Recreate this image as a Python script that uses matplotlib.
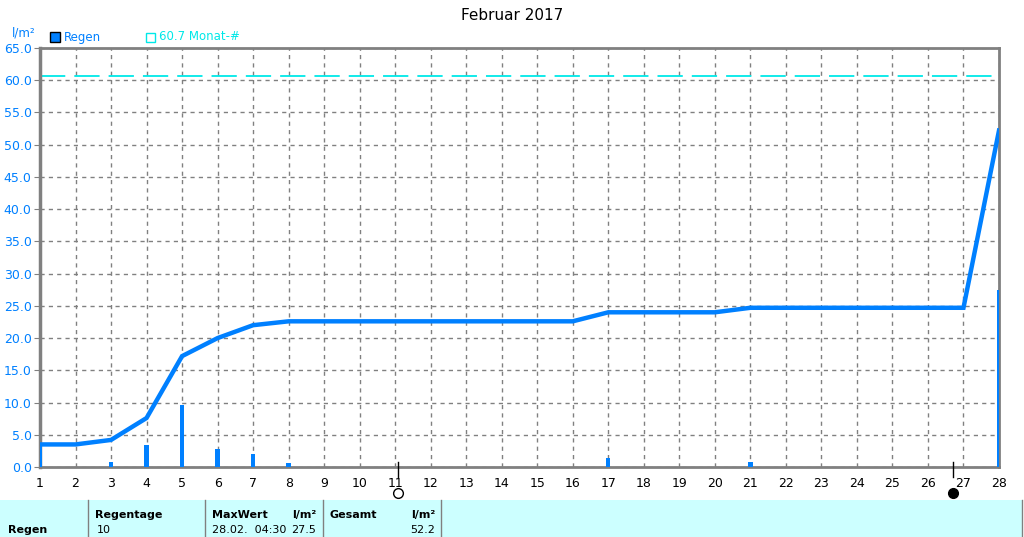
import numpy as np
import matplotlib
matplotlib.use("Agg")
import matplotlib.pyplot as plt
from matplotlib.patches import Rectangle
from matplotlib.lines import Line2D

# ---- data ----
days = list(range(1, 29))
daily_rain = [3.5, 0, 0.7, 3.4, 9.6, 2.8, 2.0, 0.6, 0, 0,
              0, 0, 0, 0, 0, 0, 1.4, 0, 0, 0,
              0.7, 0, 0, 0, 0, 0, 0, 27.5]
cumulative = [3.5, 3.5, 4.2, 7.6, 17.2, 20.0, 22.0, 22.6, 22.6, 22.6,
              22.6, 22.6, 22.6, 22.6, 22.6, 22.6, 24.0, 24.0, 24.0, 24.0,
              24.7, 24.7, 24.7, 24.7, 24.7, 24.7, 24.7, 52.2]
month_avg = 60.7
yticks = [0, 5, 10, 15, 20, 25, 30, 35, 40, 45, 50, 55, 60, 65]
full_moon_day = 11.08
new_moon_day = 26.7
title = "Februar 2017"
table_headers = ["Regentage", "MaxWert", "l/m²", "Gesamt", "l/m²"]
table_row = ["Regen", "10", "28.02.  04:30", "27.5", "52.2"]

W, H = 1024, 537
BLUE = "#0080FF"
CYAN = "#00E8E8"
GRAY = "#808080"

plt.rcParams['font.family'] = ['DejaVu Sans']
fig = plt.figure(figsize=(W / 100, H / 100), dpi=100)
fig.patch.set_facecolor("white")

def fx(px):
    return px / W

def fy(py):
    return 1 - py / H

ax = fig.add_axes([fx(40), fy(467), fx(999) - fx(40), fy(48) - fy(467)])
ax.set_xlim(1, 28)
ax.set_ylim(0, 65)

# grid
ax.set_xticks(days)
ax.set_yticks(yticks)
ax.grid(True, color=GRAY, linestyle=(0, (3, 3)), linewidth=1)
ax.set_axisbelow(True)

# monthly average line
ax.axhline(month_avg, color=CYAN, linewidth=1.3, linestyle=(0, (14, 5)))

# daily bars
ax.bar(days, daily_rain, width=0.12, color=BLUE, align="center", zorder=3)

# cumulative line
ax.plot(days, cumulative, color=BLUE, linewidth=3.2, zorder=4,
        solid_joinstyle="miter")

# spines
for s in ["left", "top", "right", "bottom"]:
    ax.spines[s].set_color(GRAY)
    ax.spines[s].set_linewidth(2)
ax.spines["left"].set_linewidth(2.5)

ax.set_yticklabels([f"{v:.1f}" for v in yticks], color=BLUE, fontsize=9)
ax.set_xticklabels([str(d) for d in days], color="black", fontsize=9)
ax.tick_params(axis="y", length=4, color=GRAY, pad=2)
ax.tick_params(axis="x", length=0, pad=7)

# moon phase markers
tr = ax.get_xaxis_transform()
for d, filled in [(full_moon_day, False), (new_moon_day, True)]:
    ax.plot([d, d], [0.012, -0.025], color="black", linewidth=1,
            transform=tr, clip_on=False, zorder=6)
    ax.plot([d], [-0.062], marker="o", markersize=7,
            markerfacecolor="black" if filled else "white",
            markeredgecolor="black", markeredgewidth=1,
            transform=tr, clip_on=False, zorder=6)

# title
fig.text(fx(512), fy(15), title, ha="center", va="center", fontsize=11)

# y unit label
fig.text(fx(12), fy(33), "l/m²", color=BLUE, fontsize=8.5, ha="left", va="center")

# legend
fig.patches.append(Rectangle((fx(50), fy(42)), fx(10), fx(10) * W / H,
                             facecolor=BLUE, edgecolor="black", linewidth=1,
                             transform=fig.transFigure, figure=fig))
fig.text(fx(64), fy(37), "Regen", color=BLUE, fontsize=8.5, ha="left", va="center")
fig.patches.append(Rectangle((fx(146), fy(42)), fx(9), fx(9) * W / H,
                             facecolor="none", edgecolor=CYAN, linewidth=1,
                             transform=fig.transFigure, figure=fig))
fig.text(fx(159), fy(37), "60.7 Monat-#", color=CYAN, fontsize=8.5, ha="left", va="center")

# bottom table
fig.patches.append(Rectangle((0, 0), fx(1022), fy(500), facecolor="#CCFFFF",
                             edgecolor="none", transform=fig.transFigure, figure=fig))
for px in [88, 205, 323, 441, 1022]:
    fig.add_artist(Line2D([fx(px), fx(px)], [0, fy(500)], color=GRAY,
                          linewidth=1, transform=fig.transFigure))

fs = 8
fig.text(fx(8), fy(530), table_row[0], fontsize=fs, fontweight="bold", ha="left", va="center")
fig.text(fx(95), fy(515), table_headers[0], fontsize=fs, fontweight="bold", ha="left", va="center")
fig.text(fx(97), fy(530), table_row[1], fontsize=fs, ha="left", va="center")
fig.text(fx(212), fy(515), table_headers[1], fontsize=fs, fontweight="bold", ha="left", va="center")
fig.text(fx(316), fy(515), table_headers[2], fontsize=fs, fontweight="bold", ha="right", va="center")
fig.text(fx(212), fy(530), table_row[2], fontsize=fs, ha="left", va="center")
fig.text(fx(316), fy(530), table_row[3], fontsize=fs, ha="right", va="center")
fig.text(fx(330), fy(515), table_headers[3], fontsize=fs, fontweight="bold", ha="left", va="center")
fig.text(fx(435), fy(515), table_headers[4], fontsize=fs, fontweight="bold", ha="right", va="center")
fig.text(fx(435), fy(530), table_row[4], fontsize=fs, ha="right", va="center")

fig.savefig("out.png", dpi=100)
